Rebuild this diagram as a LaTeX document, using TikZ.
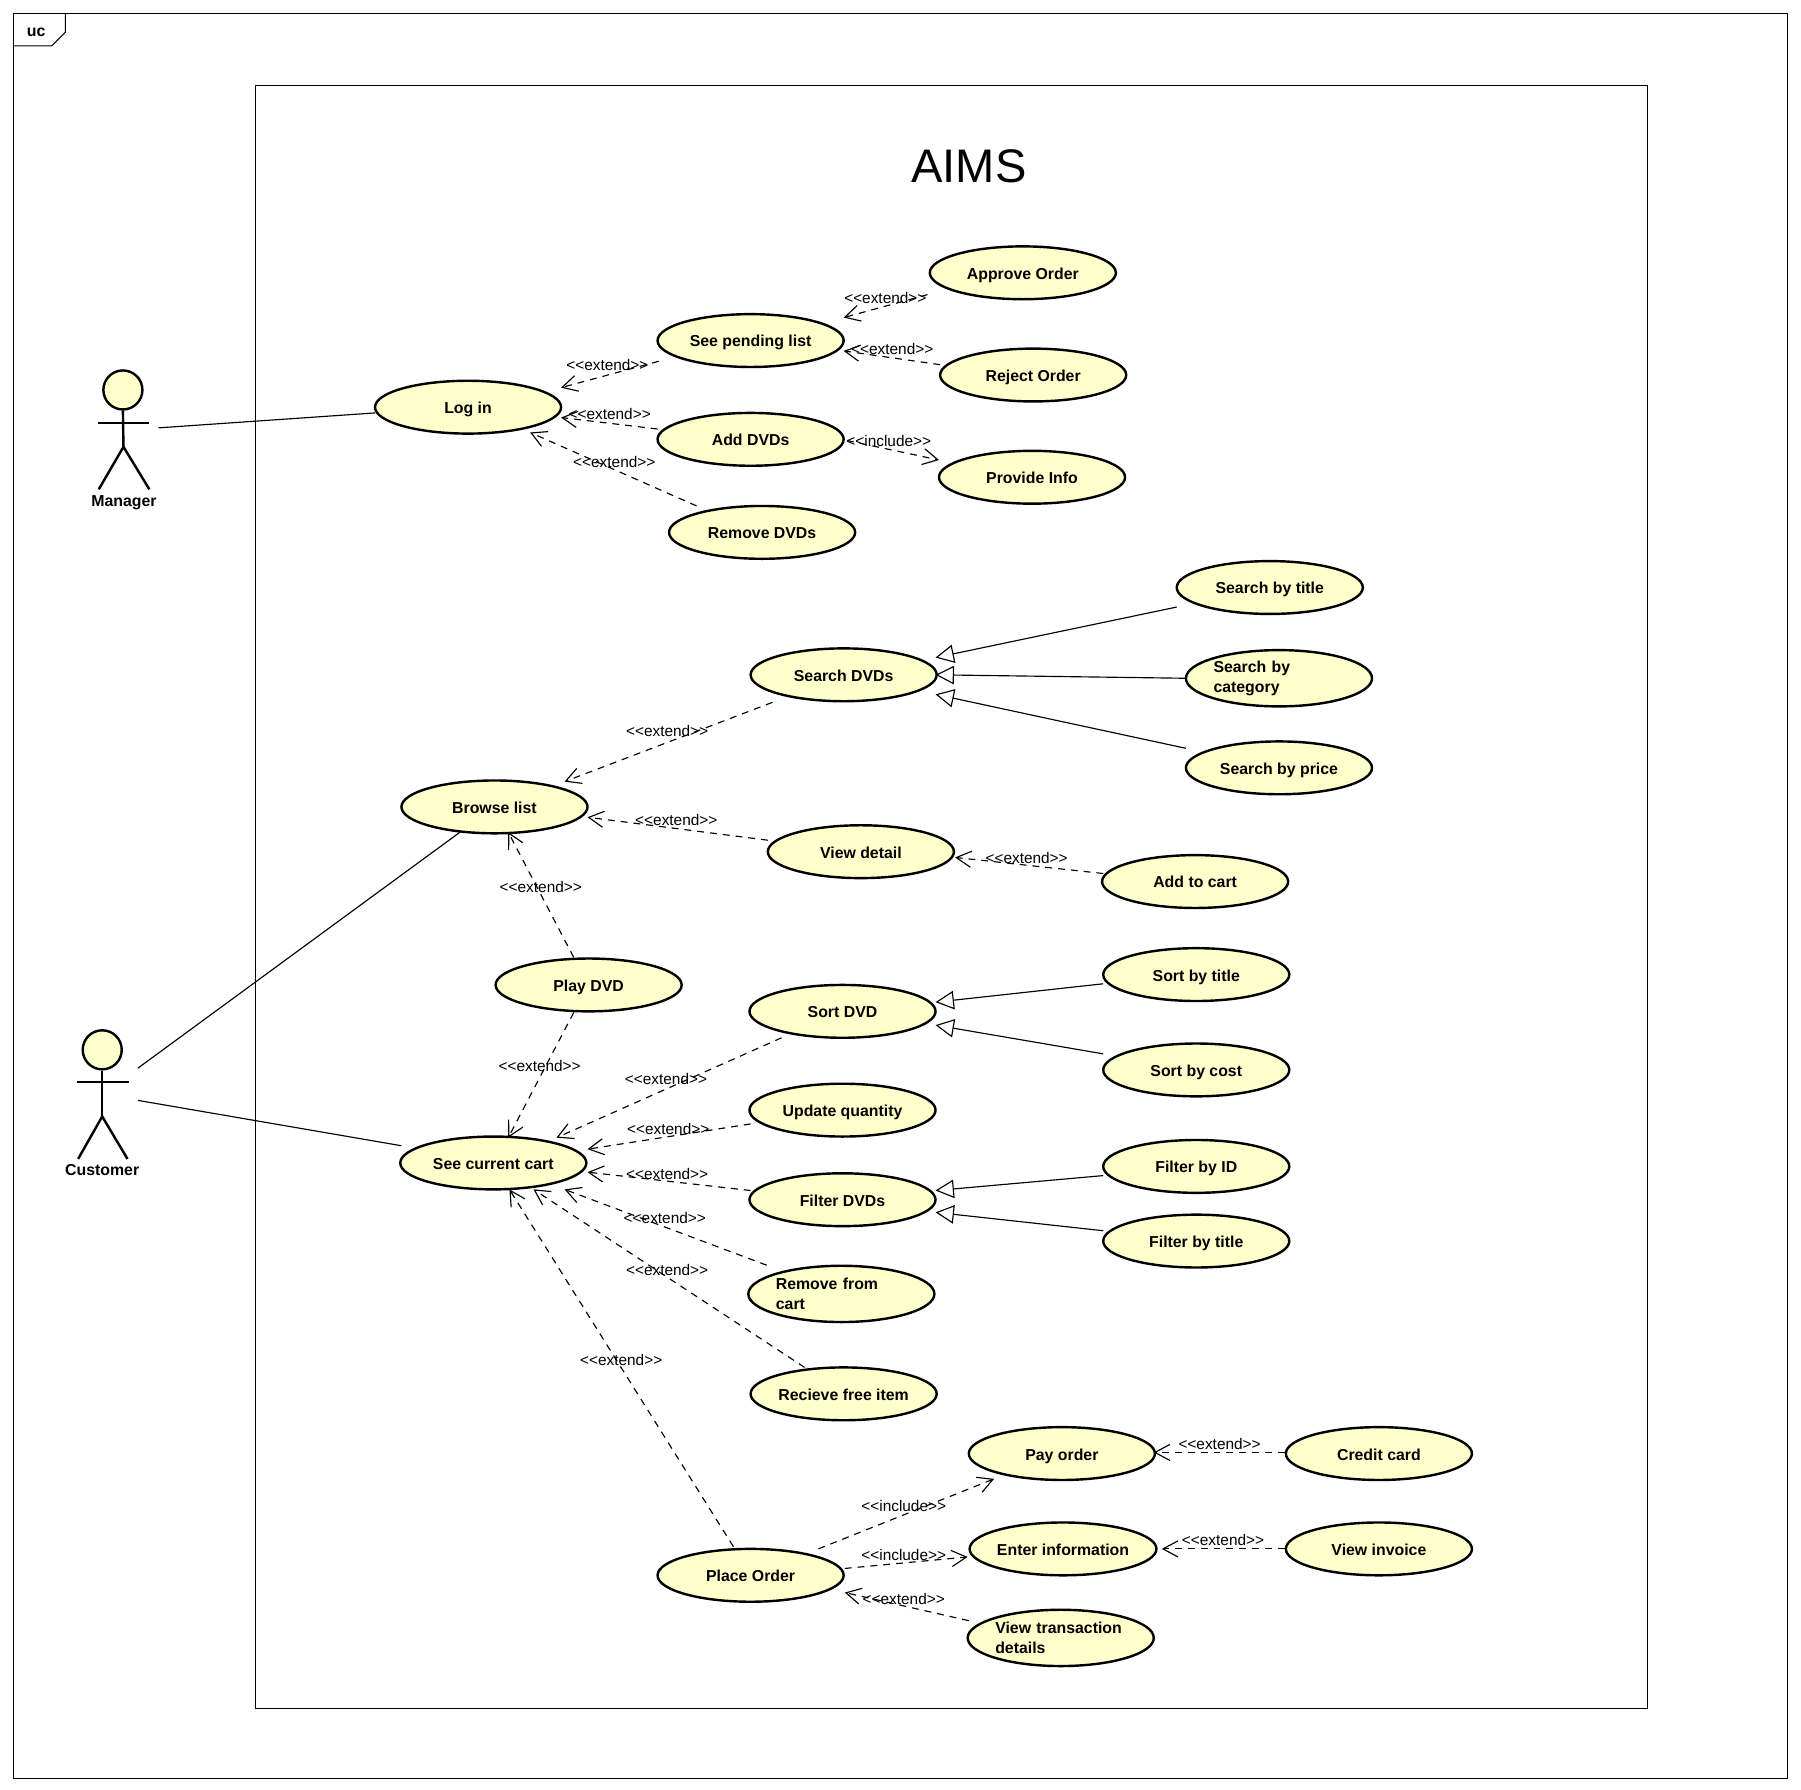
\documentclass[tikz,border=0pt]{standalone}
\usepackage{fontspec}
\setmainfont{Liberation Sans}
\newfontfamily\labfont{Liberation Sans}
\usetikzlibrary{shapes.geometric,arrows.meta}
\definecolor{ucfill}{HTML}{FFFFCC}
\tikzset{
  uc/.style={ellipse,draw=black,line width=1.05pt,fill=ucfill,minimum width=81pt,minimum height=23pt,inner sep=0pt,xshift=0.25pt,yshift=-0.25pt,text height=6.5pt,text depth=0.9pt,font=\fontsize{6.9pt}{8.6pt}\selectfont\bfseries},
  uctwo/.style={uc,text height=,text depth=,minimum height=24.5pt,align=left,text width=57pt},
  dep/.style={line width=0.5pt,dash pattern=on 3pt off 2.6pt,-{Straight Barb[length=6.5pt,width=7pt,line width=0.5pt]}},
  gen/.style={line width=0.5pt,-{Triangle[open,fill=white,length=8pt,width=8pt,line width=0.5pt]}},
  assoc/.style={line width=0.5pt},
  frame/.style={line width=0.45pt},
  stereo/.style={font=\fontsize{6.7pt}{8pt}\labfont,inner sep=0pt,xshift=0.4pt,yshift=-0.4pt},
  actorhead/.style={circle,draw=black,line width=1.05pt,fill=ucfill,minimum size=17pt,inner sep=0pt},
  actorline/.style={line width=1.05pt},
  actorname/.style={font=\fontsize{6.9pt}{8.6pt}\selectfont\bfseries,inner sep=0pt},
}
\begin{document}
\begin{tikzpicture}[x=0.5pt,y=-0.5pt]
\useasboundingbox (0,0) rectangle (1568,1557.6);
\fill[white] (0,0) rectangle (1568,1557.6);
% frames
\draw[frame] (12,12) rectangle (1556,1548);
\draw[frame] (12,40) -- (45,40) -- (57,28) -- (57,12);
\node[actorname] (uclabel) at (31.5,28) {uc};
\draw[frame] (222.4,74.4) rectangle (1434.2,1487.4);
\node[font=\fontsize{20.5pt}{24pt}\selectfont,inner sep=0pt] (title) at (843.5,145) {AIMS};
% actors
\node[actorhead] (mhead) at (107,339.5) {};
\coordinate (mneck) at (107.5,389);
\draw[actorline] (mhead.south) -- (mneck);
\draw[actorline] (85,368.5) -- (130,368.5);
\draw[actorline] (86,426) -- (mneck) -- (130,426);
\node[actorname] (mname) at (108,437.5) {Manager};
\node[actorhead] (chead) at (89,914) {};
\coordinate (cneck) at (89,972);
\draw[actorline] (chead.south) -- (cneck);
\draw[actorline] (67,942) -- (112,942);
\draw[actorline] (68,1009) -- (cneck) -- (111,1009);
\node[actorname] (cname) at (89,1019) {Customer};
% use cases
\node[uc] (login) at (407,354) {Log in};
\node[uc] (pend) at (653,296) {See pending list};
\node[uc] (add) at (653,382) {Add DVDs};
\node[uc] (rem) at (663,463) {Remove DVDs};
\node[uc] (appr) at (890,237) {Approve Order};
\node[uc] (rej) at (899,326) {Reject Order};
\node[uc] (prov) at (898,415) {Provide Info};
\node[uc] (st) at (1105,511) {Search by title};
\node[uctwo] (sc) at (1113,590) {Search by\\category};
\node[uc] (sp) at (1113,668) {Search by price};
\node[uc] (sdvd) at (734,587) {Search DVDs};
\node[uc] (browse) at (430,702) {Browse list};
\node[uc] (view) at (749,741) {View detail};
\node[uc] (cartadd) at (1040,767) {Add to cart};
\node[uc] (play) at (512,857) {Play DVD};
\node[uc] (sort) at (733,880) {Sort DVD};
\node[uc] (sot) at (1041,848) {Sort by title};
\node[uc] (soc) at (1041,931) {Sort by cost};
\node[uc] (upd) at (733,966) {Update quantity};
\node[uc] (cart) at (429,1012) {See current cart};
\node[uc] (filt) at (733,1044) {Filter DVDs};
\node[uc] (fid) at (1041,1015) {Filter by ID};
\node[uc] (ft) at (1041,1080) {Filter by title};
\node[uctwo] (remc) at (732,1126) {Remove from\\cart};
\node[uc] (recv) at (734,1213) {Recieve free item};
\node[uc] (pay) at (924,1265) {Pay order};
\node[uc] (cred) at (1200,1265) {Credit card};
\node[uc] (enter) at (925,1348) {Enter information};
\node[uc] (vinv) at (1200,1348) {View invoice};
\node[uc] (place) at (653,1371) {Place Order};
\node[uctwo] (vtd) at (923,1425.5) {View transaction\\details};
% associations
\draw[assoc] ([shift={(31,33)}]mhead.center) -- ([shift={(-81,5)}]login.center);
\draw[assoc] ([shift={(31,16)}]chead.center) -- ([shift={(-30,22)}]browse.center);
\draw[assoc] ([shift={(31,44)}]chead.center) -- ([shift={(-80,-15)}]cart.center);
% dependencies
\draw[dep] ([shift={(-80,18)}]pend.center) -- ([shift={(81,-17)}]login.center);
\draw[dep] ([shift={(-81,-9)}]add.center) -- ([shift={(81,9)}]login.center);
\draw[dep] ([shift={(-57,-23)}]rem.center) -- ([shift={(54,22)}]login.center);
\draw[dep] ([shift={(-83,19)}]appr.center) -- ([shift={(81,-20)}]pend.center);
\draw[dep] ([shift={(-81,-9)}]rej.center) -- ([shift={(81,9)}]pend.center);
\draw[dep] ([shift={(84,1)}]add.center) -- ([shift={(-81,-15)}]prov.center);
\draw[dep] ([shift={(-62,24)}]sdvd.center) -- ([shift={(61,-22)}]browse.center);
\draw[dep] ([shift={(-81,-10)}]view.center) -- ([shift={(81,9)}]browse.center);
\draw[dep] ([shift={(-80,-7)}]cartadd.center) -- ([shift={(82,5)}]view.center);
\draw[dep] ([shift={(-13,-24)}]play.center) -- ([shift={(12,22)}]browse.center);
\draw[dep] ([shift={(-13,24)}]play.center) -- ([shift={(13,-22)}]cart.center);
\draw[dep] ([shift={(-53,23)}]sort.center) -- ([shift={(55,-22)}]cart.center);
\draw[dep] ([shift={(-80,12)}]upd.center) -- ([shift={(82,-12)}]cart.center);
\draw[dep] ([shift={(-80,-8)}]filt.center) -- ([shift={(82,8)}]cart.center);
\draw[dep] ([shift={(-65,-25)}]remc.center) -- ([shift={(62,23)}]cart.center);
\draw[dep] ([shift={(-34,-23)}]recv.center) -- ([shift={(35,23)}]cart.center);
\draw[dep] ([shift={(-15,-25)}]place.center) -- ([shift={(14,23)}]cart.center);
\draw[dep] ([shift={(59,-23)}]place.center) -- ([shift={(-59,22)}]pay.center);
\draw[dep] ([shift={(82,-6)}]place.center) -- ([shift={(-83,7)}]enter.center);
\draw[dep] ([shift={(-80,-15)}]vtd.center) -- ([shift={(82,15)}]place.center);
\draw[dep] ([shift={(-82,-1)}]cred.center) -- ([shift={(80,-1)}]pay.center);
\draw[dep] ([shift={(-82,0)}]vinv.center) -- ([shift={(86,0)}]enter.center);
% generalizations
\draw[gen] ([shift={(-81,17)}]st.center) -- ([shift={(80,-15)}]sdvd.center);
\draw[gen] ([shift={(-82,0)}]sc.center) -- ([shift={(80,0)}]sdvd.center);
\draw[gen] ([shift={(-81,-17)}]sp.center) -- ([shift={(80,17)}]sdvd.center);
\draw[gen] ([shift={(-81,8)}]sot.center) -- ([shift={(81,-8)}]sort.center);
\draw[gen] ([shift={(-81,-14)}]soc.center) -- ([shift={(81,12)}]sort.center);
\draw[gen] ([shift={(-81,8)}]fid.center) -- ([shift={(81,-8)}]filt.center);
\draw[gen] ([shift={(-81,-9)}]ft.center) -- ([shift={(81,11)}]filt.center);
% stereotype labels
\node[stereo] (l1) at (528,317) {<<extend>>};
\node[stereo] (l2) at (530,360) {<<extend>>};
\node[stereo] (l3) at (534,401) {<<extend>>};
\node[stereo] (l4) at (770,259) {<<extend>>};
\node[stereo] (l5) at (776,303) {<<extend>>};
\node[stereo] (l6) at (773,383) {<<include>>};
\node[stereo] (l7) at (580,636) {<<extend>>};
\node[stereo] (l8) at (588,713) {<<extend>>};
\node[stereo] (l9) at (893,746) {<<extend>>};
\node[stereo] (l10) at (470,771) {<<extend>>};
\node[stereo] (l11) at (469,927) {<<extend>>};
\node[stereo] (l12) at (579,939) {<<extend>>};
\node[stereo] (l13) at (581,982) {<<extend>>};
\node[stereo] (l14) at (580,1021) {<<extend>>};
\node[stereo] (l15) at (578,1060) {<<extend>>};
\node[stereo] (l16) at (580,1105) {<<extend>>};
\node[stereo] (l17) at (540,1183) {<<extend>>};
\node[stereo] (l18) at (786,1310) {<<include>>};
\node[stereo] (l19) at (786,1353) {<<include>>};
\node[stereo] (l20) at (786,1391) {<<extend>>};
\node[stereo] (l21) at (1061,1256) {<<extend>>};
\node[stereo] (l22) at (1064,1340) {<<extend>>};
\end{tikzpicture}
\end{document}
